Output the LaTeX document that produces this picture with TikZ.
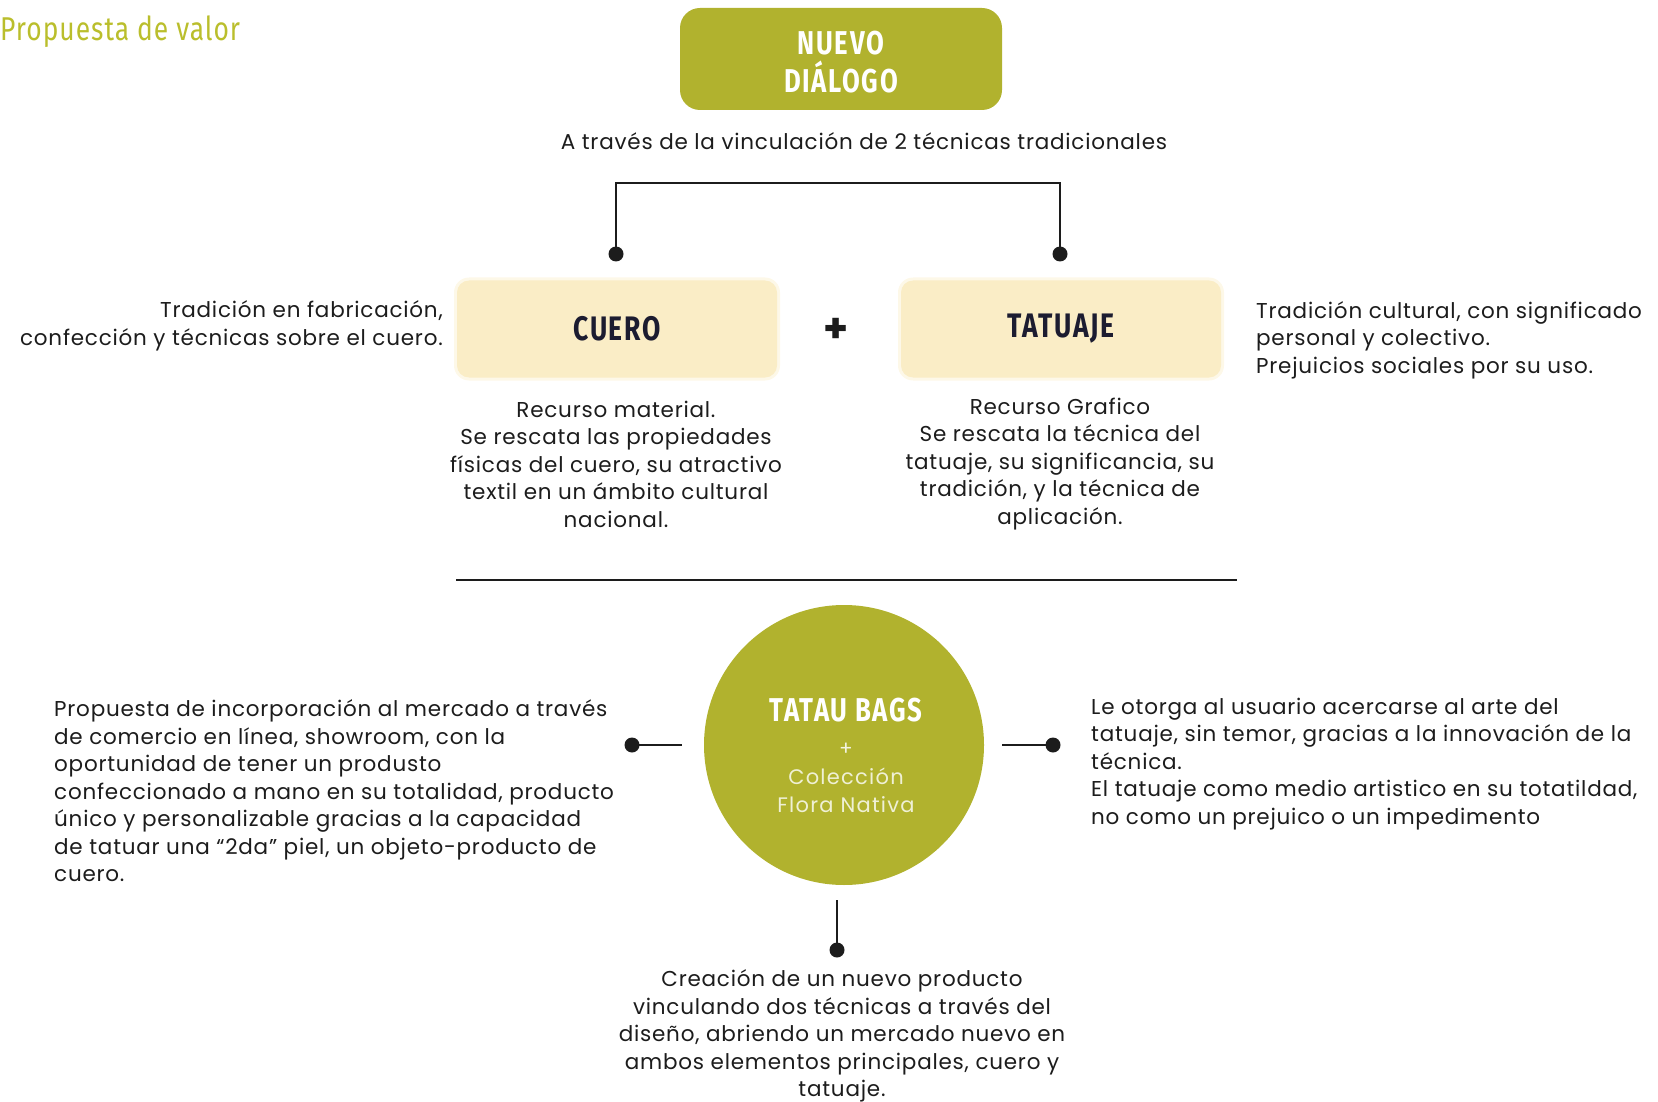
\documentclass[tikz,border=0pt]{standalone}
\usepackage{fontspec}
\setmainfont[LetterSpace=3.6]{Poppins}
\newfontfamily\headfont[FakeStretch=0.78,LetterSpace=5]{Fira Sans}
\newfontfamily\titlefont[FakeStretch=0.8,LetterSpace=3]{Fira Sans}
\newfontfamily\thinfont[LetterSpace=6]{Poppins}
\definecolor{olive}{RGB}{177,178,46}
\definecolor{titleolive}{RGB}{186,190,44}
\definecolor{cream}{RGB}{250,237,198}
\definecolor{ink}{RGB}{28,28,28}
\definecolor{navy}{RGB}{28,28,48}
\begin{document}
\begin{tikzpicture}[x=1pt,y=-1pt,
  body/.style={inner sep=0pt,text=ink,font=\fontsize{21.5}{27.5}\selectfont},
  creambox/.style={fill=cream,rounded corners=12pt,minimum width=320pt,minimum height=97pt,inner sep=0pt},
  creamhalo/.style={fill=cream!40!white,rounded corners=15pt,minimum width=326pt,minimum height=103pt,inner sep=0pt},
  link/.style={line width=2pt,draw=ink},
  dotnode/.style={circle,fill=ink,inner sep=0pt,minimum size=15pt}]
\useasboundingbox (0,0) rectangle (1658,1102);
% title
\node[inner sep=0pt,anchor=west,text=titleolive,font=\titlefont\fontsize{33}{38}\selectfont] (title) at (0,32) {Propuesta de valor};
% top box
\node[fill=olive,rounded corners=20pt,minimum width=322pt,minimum height=102pt,inner sep=0pt] (dialogo) at (841,59) {};
\node[align=center,inner sep=0pt,text=white,font=\headfont\bfseries\fontsize{33}{38}\selectfont] (dialogotxt) at (841,62) {NUEVO\\DIÁLOGO};
\node[body] (via) at (864,141) {A través de la vinculación de 2 técnicas tradicionales};
% bracket
\node[dotnode] (dotL) at (616,254) {};
\node[dotnode] (dotR) at (1060,254) {};
\coordinate (brL) at (616,183);
\coordinate (brR) at (1060,183);
\draw[link] (dotL.center) -- (brL) -- (brR) -- (dotR.center);
% cream boxes
\node[creamhalo] (cueroh) at (617,329) {};
\node[creamhalo] (tatuajeh) at (1061,329) {};
\node[creambox,text=navy,font=\headfont\bfseries\fontsize{34}{38}\selectfont] (cuero) at (617,329) {CUERO};
\node[creambox,text=navy,font=\headfont\bfseries\fontsize{34}{38}\selectfont] (tatuaje) at (1061,329) {TATUAJE};
\node[inner sep=0pt,text=ink,font=\fontsize{40}{40}\selectfont\bfseries] (plus) at (836,330) {+};
\node[body,align=right,anchor=east] (tradL) at (443,326) {Tradición en fabricación,\\confección y técnicas sobre el cuero.};
\node[body,align=left,anchor=west] (tradR) at (1256,340) {Tradición cultural, con significado\\personal y colectivo.\\Prejuicios sociales por su uso.};
\node[body,align=center] (descC) at (616,464) {Recurso material.\\Se rescata las propiedades\\físicas del cuero, su atractivo\\textil en un ámbito cultural\\nacional.};
\node[body,align=center] (descT) at (1060,464) {Recurso Grafico\\Se rescata la técnica del\\tatuaje, su significancia, su\\tradición, y la técnica de\\aplicación.};
% divider
\coordinate (divL) at (456,580);
\coordinate (divR) at (1237,580);
\draw[link] (divL) -- (divR);
% circle
\node[circle,fill=olive,minimum size=280pt,inner sep=0pt] (circ) at (844,745) {};
\node[inner sep=0pt,text=white,font=\headfont\bfseries\fontsize{33}{38}\selectfont] (tatau) at (846,710) {TATAU BAGS};
\node[inner sep=0pt,text=white!85!olive,font=\fontsize{20}{20}\selectfont] (cplus) at (846,749) {+};
\node[inner sep=0pt,align=center,text=white!80!olive,font=\thinfont\fontsize{21}{28}\selectfont] (coleccion) at (846,790) {Colección\\Flora Nativa};
% connectors
\node[dotnode] (dotl) at (632,745) {};
\node[dotnode] (dotr) at (1053,745) {};
\node[dotnode] (dotb) at (837,950) {};
\draw[link] (dotl.center) -- ([xshift=-22pt]circ.west);
\draw[link] ([xshift=18pt]circ.east) -- (dotr.center);
\draw[link] ([xshift=-7pt,yshift=-15pt]circ.south) -- (dotb.center);
% side texts
\node[body,align=left,anchor=west] (propL) at (54,791) {Propuesta de incorporación al mercado a través\\de comercio en línea, showroom, con la\\oportunidad de tener un produsto\\confeccionado a mano en su totalidad, producto\\único y personalizable gracias a la capacidad\\de tatuar una “2da” piel, un objeto-producto de\\cuero.};
\node[body,align=left,anchor=west] (propR) at (1091,764) {Le otorga al usuario acercarse al arte del\\tatuaje, sin temor, gracias a la innovación de la\\técnica.\\El tatuaje como medio artistico en su totatildad,\\no como un prejuico o un impedimento};
\node[body,align=center] (creacion) at (842,1036) {Creación de un nuevo producto\\vinculando dos técnicas a través del\\diseño, abriendo un mercado nuevo en\\ambos elementos principales, cuero y\\tatuaje.};
\end{tikzpicture}
\end{document}
